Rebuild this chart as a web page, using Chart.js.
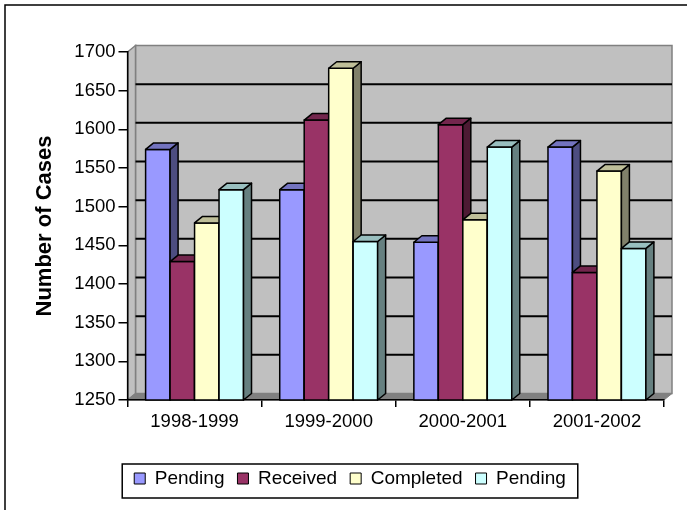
<!DOCTYPE html>
<html>
<head>
<meta charset="utf-8">
<script src="https://cdn.jsdelivr.net/npm/chart.js@4.4.0/dist/chart.umd.min.js"></script>
<style>
  html, body { margin: 0; padding: 0; background: #fff; }
  #wrap { width: 687px; height: 510px; }
</style>
</head>
<body>
<div id="wrap"><canvas id="chart" width="687" height="510"></canvas></div>
<script>
const categories = ["1998-1999", "1999-2000", "2000-2001", "2001-2002"];
const seriesNames = ["Pending", "Received", "Completed", "Pending"];
const pendingStart = [1574, 1522, 1454, 1577];
const received = [1429, 1612, 1606, 1415];
const completed = [1479, 1679, 1483, 1546];
const pendingEnd = [1522, 1455, 1577, 1446];
const yMin = 1250, yMax = 1700, yStep = 50;

const frontColors = ["#9999ff", "#993366", "#ffffcc", "#ccffff"];
const topColors = ["#7373bf", "#73264d", "#bfbf99", "#99bfbf"];
const sideColors = ["#4d4d80", "#4d1a33", "#80806a", "#668080"];
const DX = 8, DY = 6.5;

function poly(ctx, pts, fill, stroke, lw) {
  ctx.beginPath();
  ctx.moveTo(pts[0][0], pts[0][1]);
  for (let i = 1; i < pts.length; i++) ctx.lineTo(pts[i][0], pts[i][1]);
  ctx.closePath();
  if (fill) { ctx.fillStyle = fill; ctx.fill(); }
  if (stroke) { ctx.strokeStyle = stroke; ctx.lineWidth = lw || 1; ctx.stroke(); }
}

// back wall, side wall, floor, gridlines
const walls = {
  id: "walls",
  beforeDraw(chart) {
    const { ctx, chartArea: a, scales: { y } } = chart;
    ctx.save();
    ctx.strokeStyle = "#000";
    ctx.lineWidth = 1.5;
    ctx.beginPath();
    ctx.moveTo(5, 512); ctx.lineTo(5, 5); ctx.lineTo(690, 5);
    ctx.stroke();

    poly(ctx, [[a.left + DX, a.top - DY], [a.right + DX, a.top - DY],
               [a.right + DX, a.bottom - DY], [a.left + DX, a.bottom - DY]], "#c0c0c0", "#808080", 1.5);
    poly(ctx, [[a.left, a.top], [a.left + DX, a.top - DY],
               [a.left + DX, a.bottom - DY], [a.left, a.bottom]], "#c0c0c0", "#808080", 1.5);
    poly(ctx, [[a.left, a.bottom], [a.left + DX, a.bottom - DY],
               [a.right + DX, a.bottom - DY], [a.right, a.bottom]], "#808080", "#808080", 1);

    ctx.strokeStyle = "#000";
    ctx.lineWidth = 2;
    y.ticks.forEach(t => {
      if (t.value <= yMin || t.value >= yMax) return;
      const py = y.getPixelForValue(t.value) - DY;
      ctx.beginPath();
      ctx.moveTo(a.left + DX, py);
      ctx.lineTo(a.right + DX, py);
      ctx.stroke();
    });
    ctx.restore();
  },
  // draw bars as blocks, category by category so faces overlap properly
  beforeDatasetsDraw(chart) {
    const ctx = chart.ctx;
    const floor = chart.chartArea.bottom;
    const metas = chart.data.datasets.map((d, i) => chart.getDatasetMeta(i));
    ctx.save();
    ctx.lineJoin = "round";
    for (let j = 0; j < categories.length; j++) {
      metas.forEach((meta, i) => {
        const p = meta.data[j].getProps(["x", "y", "base", "width"], true);
        const y = p.y, base = Math.min(p.base, floor);
        const l = p.x - p.width / 2, r = p.x + p.width / 2;
        poly(ctx, [[l, y], [r, y], [r, base], [l, base]], frontColors[i], "#000", 1.5);
        poly(ctx, [[r, y], [r + DX, y - DY], [r + DX, base - DY], [r, base]], sideColors[i], "#000", 1.5);
        poly(ctx, [[l, y], [l + DX, y - DY], [r + DX, y - DY], [r, y]], topColors[i], "#000", 1.5);
      });
    }
    ctx.restore();
    return false;
  },
  afterLayout(chart) {
    chart.legend.left += 36;
  },
  afterDraw(chart) {
    const boxes = chart.legend.legendHitBoxes;
    if (!boxes || !boxes.length) return;
    const left = Math.min(...boxes.map(b => b.left)) - 12;
    const right = Math.max(...boxes.map(b => b.left + b.width)) + 12;
    const cy = boxes[0].top + boxes[0].height / 2;
    const ctx = chart.ctx;
    ctx.save();
    ctx.strokeStyle = "#000";
    ctx.lineWidth = 1.5;
    ctx.strokeRect(left, cy - 14.5, right - left, 34);
    ctx.restore();
  }
};

Chart.defaults.font.family = "Arial, 'Liberation Sans', sans-serif";
Chart.defaults.color = "#000";

const seriesData = [pendingStart, received, completed, pendingEnd];

new Chart(document.getElementById("chart"), {
  type: "bar",
  data: {
    labels: categories,
    datasets: seriesNames.map((name, i) => ({
      label: name,
      data: seriesData[i],
      backgroundColor: frontColors[i],
      borderColor: "#000",
      borderWidth: 1,
      categoryPercentage: 0.73,
      barPercentage: 1.0
    }))
  },
  options: {
    responsive: false,
    animation: false,
    layout: { padding: { left: 0, right: 23, top: 52, bottom: 12 } },
    plugins: {
      tooltip: { enabled: false },
      legend: {
        position: "bottom",
        labels: { boxWidth: 11, boxHeight: 11, padding: 13, font: { size: 19 }, color: "#000" }
      }
    },
    scales: {
      x: {
        grid: { offset: true, drawOnChartArea: false, drawTicks: true, tickLength: 7, color: "#000", lineWidth: 1.5 },
        border: { color: "#000", width: 1.5 },
        ticks: { font: { size: 18.5 }, padding: 4, color: "#000" },
        afterFit(s) { s.height = 56; }
      },
      y: {
        min: yMin,
        max: yMax,
        ticks: { stepSize: yStep, font: { size: 18.5 }, padding: 3, color: "#000", callback: v => String(v) },
        grid: { drawOnChartArea: false, drawTicks: true, tickLength: 9, color: "#000", lineWidth: 1.5 },
        border: { color: "#000", width: 1.5 },
        title: { display: true, text: "Number of Cases", font: { size: 22, weight: "bold" }, padding: { top: 32, bottom: 0 }, color: "#000" },
        afterFit(s) { s.width = 127.5; }
      }
    }
  },
  plugins: [walls]
});
</script>
</body>
</html>
